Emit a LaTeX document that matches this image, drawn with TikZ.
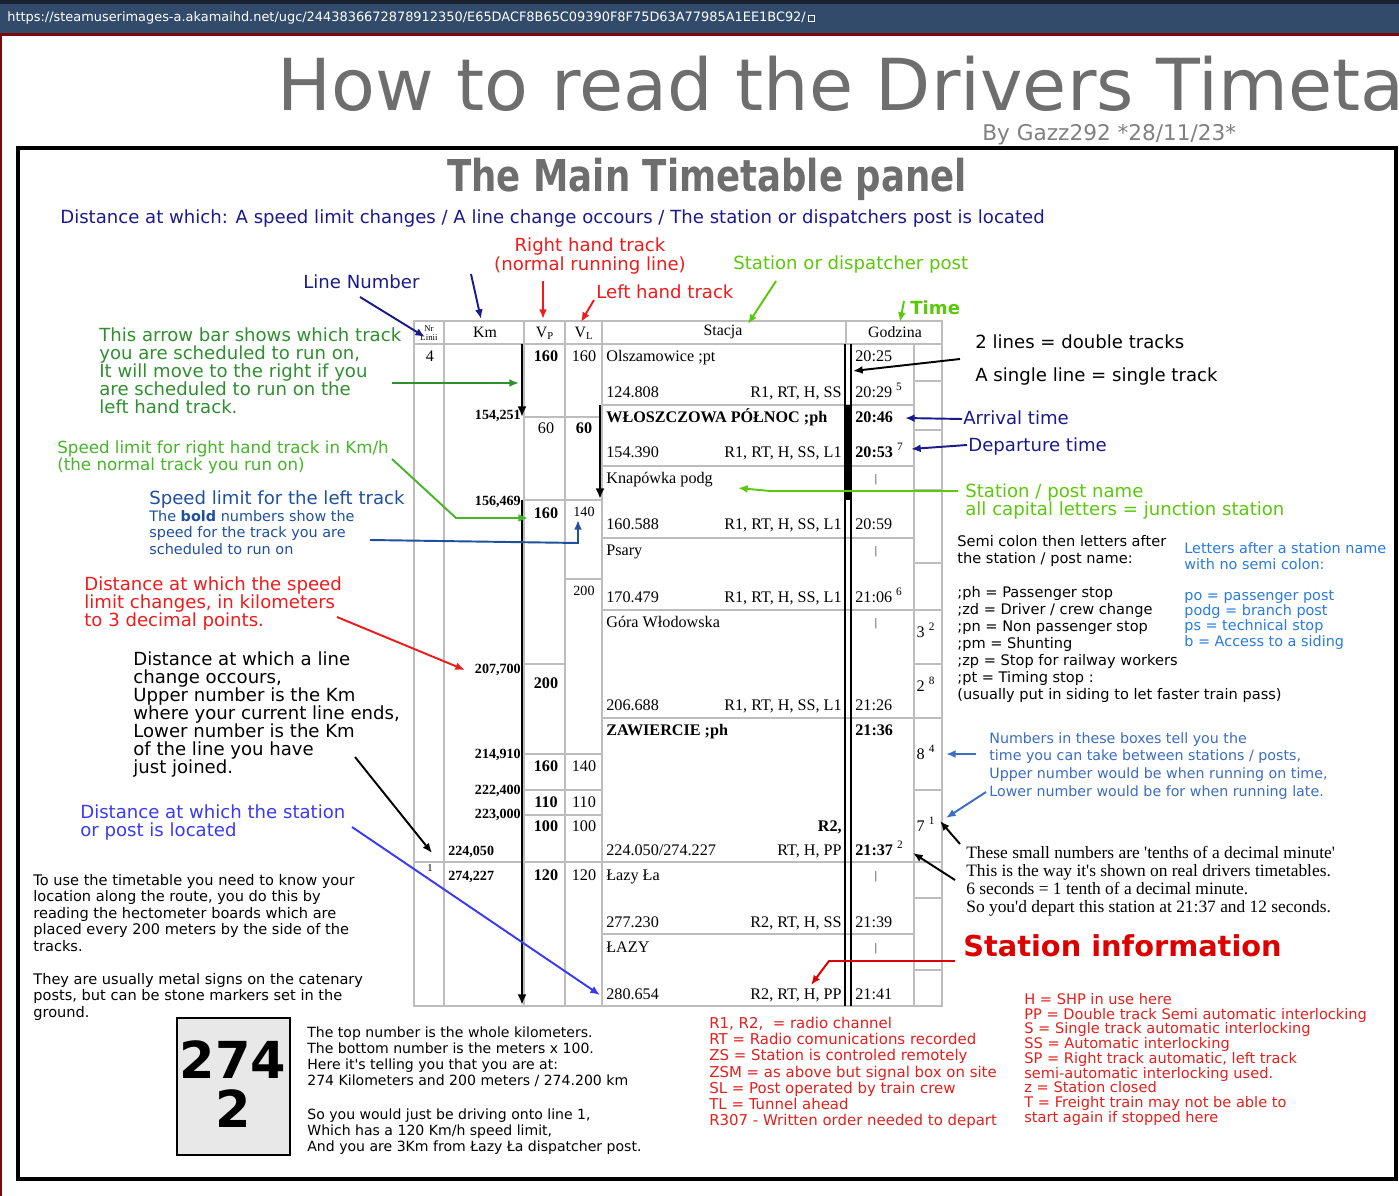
\documentclass[tikz,border=0pt]{standalone}
\usepackage{fontspec}
\setmainfont{Liberation Serif}
\setsansfont{DejaVu Sans}
\usepackage{graphicx}
\usetikzlibrary{arrows.meta}

\definecolor{topc}{HTML}{1B2330}
\definecolor{barc}{HTML}{324B6B}
\definecolor{edgec}{HTML}{7A0A0A}
\definecolor{titlec}{HTML}{6E6E6E}
\definecolor{navyc}{HTML}{1A1A8C}
\definecolor{redc}{HTML}{EE1C1C}
\definecolor{limec}{HTML}{5CC80A}
\definecolor{dgreenc}{HTML}{2F8F2F}
\definecolor{mgreenc}{HTML}{47B52A}
\definecolor{lbluec}{HTML}{1F4F9F}
\definecolor{vbluec}{HTML}{3A3AF5}
\definecolor{skyc}{HTML}{2A7AE2}
\definecolor{steelc}{HTML}{3B6DC2}
\definecolor{infoc}{HTML}{DD0000}
\definecolor{listc}{HTML}{E2201E}
\definecolor{gridc}{HTML}{BDBDBD}
\definecolor{boardc}{HTML}{E8E8E8}

\newcommand{\sq}{\textquotesingle}

\tikzset{
  ann/.style={font=\sffamily\fontsize{10.3}{10.2}\selectfont, align=left, anchor=base west},
  small/.style={font=\sffamily\fontsize{8.2}{9.4}\selectfont, align=left, anchor=base west},
  cell/.style={font=\fontsize{9.2}{10}\selectfont, anchor=base west},
  cellb/.style={font=\fontsize{9.2}{10}\selectfont\bfseries, anchor=base west},
  spd/.style={font=\fontsize{9.2}{10}\selectfont, anchor=base},
  spdb/.style={font=\fontsize{9.2}{10}\selectfont\bfseries, anchor=base},
  kmv/.style={font=\fontsize{8}{9}\selectfont\bfseries, anchor=base east},
  infotxt/.style={font=\fontsize{9.2}{10}\selectfont, anchor=base east},
  tick/.style={font=\fontsize{6.5}{7}\selectfont, anchor=base},
  head/.style={font=\fontsize{9}{10}\selectfont, anchor=center},
  gridline/.style={draw=gridc, line width=0.6pt},
  arr/.style={line width=1.1pt, -{Latex[length=5.5pt,width=4.5pt]}},
  bar/.style={line width=1.6pt, -{Latex[length=6pt,width=5pt]}}
}

\begin{document}
\begin{tikzpicture}[x=0.02cm, y=-0.02cm, every node/.style={inner sep=0pt}]
\useasboundingbox (0,0) rectangle (1399,1196);
\fill[white] (0,0) rectangle (1399,1196);

% browser strip
\fill[topc] (0,0) rectangle (1399,4);
\fill[barc] (0,4) rectangle (1399,33);
\fill[edgec] (0,33) rectangle (1399,36);
\fill[edgec] (0,36) rectangle (2,1196);
\node[anchor=west, text=white, font=\sffamily\fontsize{7.35}{8}\selectfont] (url) at (7,18)
  {https://steamuserimages-a.akamaihd.net/ugc/2443836672878912350/E65DACF8B65C09390F8F75D63A77985A1EE1BC92/};
\draw[white, line width=0.4pt] (808,15) rectangle (814,21);

% titles
\node[anchor=base west, text=titlec, font=\sffamily\fontsize{40.8}{41}\selectfont] (title) at (277,111) {How to read the Drivers Timeta};
\node[anchor=base west, text=gray, font=\sffamily\fontsize{12.3}{13}\selectfont] (byline) at (982,141) {By Gazz292 *28/11/23*};
\draw[line width=2pt] (18,148) rectangle (1396,1179);
\node[anchor=base west, text=titlec, font=\sffamily\bfseries\fontsize{25}{25}\selectfont] (panel) at (447,192) {\scalebox{0.81}[1]{The Main Timetable panel}};

% the timetable
\draw[gridline] (414,321) rectangle (942,1006);
\draw[gridline] (414,344) -- (942,344);
\draw[gridline] (444,321) -- (444,1006) (524,321) -- (524,1006) (565,321) -- (565,1006)
  (602,321) -- (602,1006) (846,321) -- (846,344) (914,344) -- (914,1006);
\draw[gridline] (602,405) -- (914,405) (602,466) -- (914,466) (602,538) -- (914,538)
  (602,610) -- (914,610) (602,718) -- (914,718) (414,862) -- (942,862) (602,934) -- (914,934);
\draw[gridline] (524,417) -- (602,417) (524,500) -- (602,500) (565,579) -- (602,579)
  (524,664) -- (565,664) (524,754) -- (602,754) (524,790) -- (602,790) (524,815) -- (602,815);
\draw[gridline] (914,381) -- (942,381) (914,430) -- (942,430) (914,490) -- (942,490)
  (914,563) -- (942,563) (914,610) -- (942,610) (914,664) -- (942,664) (914,718) -- (942,718)
  (914,790) -- (942,790) (914,898) -- (942,898) (914,970) -- (942,970);
\draw[line width=0.9pt] (845,344) -- (845,1006) (851,344) -- (851,1006);
\fill (845,405) rectangle (851,500);

\coordinate (bar1a) at (522,344);
\coordinate (bar1b) at (522,417);
\coordinate (bar2a) at (600,405);
\coordinate (bar2b) at (600,499);
\coordinate (bar3a) at (522,500);
\coordinate (bar3b) at (522,1005);
\draw[bar] (bar1a) -- (bar1b);
\draw[bar] (bar2a) -- (bar2b);
\draw[bar] (bar3a) -- (bar3b);

\node[head, font=\fontsize{5}{5.5}\selectfont, align=center] (hdnr) at (429,333) {Nr\\Linii};
\node[head] (hdkm) at (485,332) {Km};
\node[head] (hdvp) at (545,333) {V\textsubscript{P}};
\node[head] (hdvl) at (584,333) {V\textsubscript{L}};
\node[head] (hdst) at (723,332) {Stacja};
\node[head] (hdgo) at (895,332) {Godzina};

\node[spd] (nr4) at (430,361) {4};
\node[spdb] (vp1) at (546,361) {160};
\node[spd] (vl1) at (584,361) {160};
\node[cell] (st1) at (606,361) {Olszamowice ;pt};
\node[cell] (t1a) at (855,361) {20:25};
\node[cell] (ks1) at (606,397) {124.808};
\node[infotxt] (if1) at (842,397) {R1, RT, H, SS};
\node[cell] (t1b) at (855,397) {20:29 \textsuperscript{5}};

\node[kmv] (km1) at (521,419) {154,251};
\node[spd] (vp2) at (546,433) {60};
\node[spdb] (vl2) at (584,433) {60};
\node[cellb] (st2) at (606,422) {WŁOSZCZOWA PÓŁNOC ;ph};
\node[cellb] (t2a) at (855,422) {20:46};
\node[cell] (ks2) at (606,457) {154.390};
\node[infotxt] (if2) at (842,457) {R1, RT, H, SS, L1};
\node[cell] (t2b) at (855,457) {\textbf{20:53} \textsuperscript{7}};

\node[cell] (st3) at (606,483) {Knapówka podg};
\node[tick] (t3a) at (876,482) {|};
\node[kmv] (km2) at (521,505) {156,469};
\node[spdb] (vp3) at (546,518) {160};
\node[spd, font=\fontsize{8}{9}\selectfont] (vl3) at (584,516) {140};
\node[cell] (ks3) at (606,529) {160.588};
\node[infotxt] (if3) at (842,529) {R1, RT, H, SS, L1};
\node[cell] (t3b) at (855,529) {20:59};

\node[cell] (st4) at (606,555) {Psary};
\node[tick] (t4a) at (876,554) {|};
\node[spd, font=\fontsize{8}{9}\selectfont] (vl4) at (584,595) {200};
\node[cell] (ks4) at (606,602) {170.479};
\node[infotxt] (if4) at (842,602) {R1, RT, H, SS, L1};
\node[cell] (t4b) at (855,602) {21:06 \textsuperscript{6}};

\node[cell] (st5) at (606,627) {Góra Włodowska};
\node[tick] (t5a) at (876,626) {|};
\node[spd] (sm1) at (926,637) {3 \textsuperscript{2}};
\node[kmv] (km3) at (521,673) {207,700};
\node[spdb] (vp5) at (546,688) {200};
\node[spd] (sm2) at (926,691) {2 \textsuperscript{8}};
\node[cell] (ks5) at (606,710) {206.688};
\node[infotxt] (if5) at (842,710) {R1, RT, H, SS, L1};
\node[cell] (t5b) at (855,710) {21:26};

\node[cellb] (st6) at (606,735) {ZAWIERCIE ;ph};
\node[cellb] (t6a) at (855,735) {21:36};
\node[kmv] (km4) at (521,758) {214,910};
\node[spd] (sm3) at (926,759) {8 \textsuperscript{4}};
\node[spdb] (vp6) at (546,771) {160};
\node[spd] (vl6) at (584,771) {140};
\node[kmv] (km5) at (521,794) {222,400};
\node[spdb] (vp7) at (546,807) {110};
\node[spd] (vl7) at (584,807) {110};
\node[kmv] (km6) at (521,818) {223,000};
\node[spdb] (vp8) at (546,831) {100};
\node[spd] (vl8) at (584,831) {100};
\node[spd] (sm4) at (926,831) {7 \textsuperscript{1}};
\node[infotxt, font=\fontsize{9.2}{10}\selectfont\bfseries] (if6a) at (842,831) {R2,};
\node[kmv, anchor=base west] (km7) at (448,855) {224,050};
\node[cell] (ks6) at (606,855) {224.050/274.227};
\node[infotxt] (if6b) at (842,855) {RT, H, PP};
\node[cell] (t6b) at (855,855) {\textbf{21:37} \textsuperscript{2}};

\node[spd, font=\fontsize{6}{7}\selectfont] (nr1) at (430,871) {1};
\node[kmv, anchor=base west] (km8) at (448,880) {274,227};
\node[spdb] (vp9) at (546,880) {120};
\node[spd] (vl9) at (584,880) {120};
\node[cell] (st7) at (606,880) {Łazy Ła};
\node[tick] (t7a) at (876,879) {|};
\node[cell] (ks7) at (606,927) {277.230};
\node[infotxt] (if7) at (842,927) {R2, RT, H, SS};
\node[cell] (t7b) at (855,927) {21:39};

\node[cell] (st8) at (606,952) {ŁAZY};
\node[tick] (t8a) at (876,951) {|};
\node[cell] (ks8) at (606,999) {280.654};
\node[infotxt] (if8) at (842,999) {R2, RT, H, PP};
\node[cell] (t8b) at (855,999) {21:41};

% notes above the table (multi-line nodes sit on their last baseline)
\node[ann, navyc] (distall) at (60,224)
  {Distance at which: A speed limit changes / A line change occours / The station or dispatchers post is located};
\node[ann, redc, align=center, anchor=base, font=\sffamily\fontsize{10.3}{9.64}\selectfont] (rhtrack) at (590,271)
  {Right hand track\\(normal running line)};
\node[ann, redc] (lhtrack) at (596,298) {Left hand track};
\node[ann, limec] (sdpost) at (733,269) {Station or dispatcher post};
\node[ann, limec, font=\sffamily\bfseries\fontsize{10.3}{10.2}\selectfont] (timelbl) at (910,314) {Time};
\node[ann, navyc] (linenum) at (303,288) {Line Number};

% notes left of the table
\node[ann, dgreenc] (barnote) at (99,413.5) {This arrow bar shows which track\\you are scheduled to run on,\\It will move to the right if you\\are scheduled to run on the\\left hand track.};
\node[ann, mgreenc, font=\sffamily\fontsize{9.5}{9.64}\selectfont] (rspd) at (57,470) {Speed limit for right hand track in Km/h\\(the normal track you run on)};
\node[ann, lbluec] (lspd) at (149,504) {Speed limit for the left track};
\node[small, lbluec, font=\sffamily\fontsize{8.2}{9.35}\selectfont] (lspdsub) at (149,554) {The \textbf{bold} numbers show the\\speed for the track you are\\scheduled to run on};
\node[ann, redc] (spdchg) at (84,626.5) {Distance at which the speed\\limit changes, in kilometers\\to 3 decimal points.};
\node[ann] (linechg) at (133,773.5) {Distance at which a line\\change occours,\\Upper number is the Km\\where your current line ends,\\Lower number is the Km\\of the line you have\\just joined.};
\node[ann, vbluec] (stdist) at (80,836.5) {Distance at which the station\\or post is located};
\node[small, font=\sffamily\fontsize{8.3}{9.4}\selectfont] (usea) at (33,951.4) {To use the timetable you need to know your\\location along the route, you do this by\\reading the hectometer boards which are\\placed every 200 meters by the side of the\\tracks.};
\node[small, font=\sffamily\fontsize{8.3}{9.4}\selectfont] (useb) at (33,1017.2) {They are usually metal signs on the catenary\\posts, but can be stone markers set in the\\ground.};

% hectometer board
\draw[fill=boardc, line width=1.6pt] (177,1018) rectangle (290,1155);
\node[anchor=base, font=\sffamily\bfseries\fontsize{29}{29}\selectfont] (hmkm) at (233,1078) {274};
\node[anchor=base, font=\sffamily\bfseries\fontsize{29}{29}\selectfont] (hmm) at (233,1127) {2};
\node[small, font=\sffamily\fontsize{8}{9.07}\selectfont] (hma) at (307,1085) {The top number is the whole kilometers.\\The bottom number is the meters x 100.\\Here it\sq s telling you that you are at:\\274 Kilometers and 200 meters / 274.200 km};
\node[small, font=\sffamily\fontsize{8}{9.07}\selectfont] (hmb) at (307,1151) {So you would just be driving onto line 1,\\Which has a 120 Km/h speed limit,\\And you are 3Km from Łazy Ła dispatcher post.};

% notes right of the table
\node[ann] (twolines) at (975,348) {2 lines = double tracks};
\node[ann] (oneline) at (975,381) {A single line = single track};
\node[ann, navyc] (arrival) at (963,424) {Arrival time};
\node[ann, navyc] (depart) at (968,451) {Departure time};
\node[ann, limec] (stname) at (965,515.5) {Station / post name\\all capital letters = junction station};
\node[small, font=\sffamily\fontsize{8.3}{9.64}\selectfont] (semi) at (957,563.5) {Semi colon then letters after\\the station / post name:};
\node[small, font=\sffamily\fontsize{8.3}{9.64}\selectfont] (semilist) at (957,699) {;ph = Passenger stop\\;zd = Driver / crew change\\;pn = Non passenger stop\\;pm = Shunting\\;zp = Stop for railway workers\\;pt = Timing stop :\\(usually put in siding to let faster train pass)};
\node[small, skyc, font=\sffamily\fontsize{8.2}{9.07}\selectfont] (nosemi) at (1184,569) {Letters after a station name\\with no semi colon:};
\node[small, skyc, font=\sffamily\fontsize{8.2}{8.67}\selectfont] (nosemilist) at (1184,646) {po = passenger post\\podg = branch post\\ps = technical stop\\b = Access to a siding};
\node[small, steelc, font=\sffamily\fontsize{8.1}{10.03}\selectfont] (boxes) at (989,796) {Numbers in these boxes tell you the\\time you can take between stations / posts,\\Upper number would be when running on time,\\Lower number would be for when running late.};
\node[anchor=base west, align=left, font=\fontsize{9.9}{10.2}\selectfont] (tenths) at (966,912.5) {These small numbers are \sq tenths of a decimal minute\sq\\This is the way it\sq s shown on real drivers timetables.\\6 seconds = 1 tenth of a decimal minute.\\So you\sq d depart this station at 21:37 and 12 seconds.};
\node[anchor=base west, infoc, font=\sffamily\bfseries\fontsize{16.4}{17}\selectfont] (stinfo) at (963,956) {Station information};
\node[small, listc, font=\sffamily\fontsize{8.3}{8.39}\selectfont] (codes) at (1024,1122.4) {H = SHP in use here\\PP = Double track Semi automatic interlocking\\S = Single track automatic interlocking\\SS = Automatic interlocking\\SP = Right track automatic, left track\\semi-automatic interlocking used.\\z = Station closed\\T = Freight train may not be able to\\start again if stopped here};
\node[small, listc, font=\sffamily\fontsize{8.5}{9.24}\selectfont] (radio) at (709,1125.8) {R1, R2,~ = radio channel\\RT = Radio comunications recorded\\ZS = Station is controled remotely\\ZSM = as above but signal box on site\\SL = Post operated by train crew\\TL = Tunnel ahead\\R307 - Written order needed to depart};

% arrows
\coordinate (distfoot) at (471,274);
\coordinate (kmhead) at (481,319);
\coordinate (rhtfoot) at (543,281);
\coordinate (vphead) at (543,319);
\coordinate (lhtfoot) at (594,300);
\coordinate (vlhead) at (581,322);
\coordinate (sdpfoot) at (776,281);
\coordinate (sthead) at (748,324);
\coordinate (timefoot) at (904,301);
\coordinate (gohead) at (900,322);
\coordinate (linefoot) at (360,297);
\coordinate (nrhead) at (425,337);
\coordinate (barfoot) at (392,383);
\coordinate (barpt) at (519,383);
\coordinate (rspdfoot) at (392,459);
\coordinate (rspdbend) at (456,518);
\coordinate (rspdpt) at (528,518);
\coordinate (lspdfoot) at (370,540);
\coordinate (lspdbend) at (578,543);
\coordinate (lspdpt) at (578,520);
\coordinate (spdfoot) at (337,617);
\coordinate (kmchg) at (465,670);
\coordinate (linefoot2) at (355,757);
\coordinate (kmline) at (432,853);
\coordinate (stdfoot) at (352,827);
\coordinate (kmst) at (600,995);
\coordinate (trackfoot) at (960,359);
\coordinate (trackpt) at (853,371);
\coordinate (arrfoot) at (962,419);
\coordinate (arrpt) at (905,418);
\coordinate (depfoot) at (967,445);
\coordinate (deppt) at (911,449);
\coordinate (namefoot) at (958,491);
\coordinate (namebend) at (770,491);
\coordinate (namept) at (738,488);
\coordinate (boxfoot) at (976,754);
\coordinate (boxpt) at (946,754);
\coordinate (boxfoot2) at (986,792);
\coordinate (boxpt2) at (946,818);
\coordinate (tenthfoot) at (960,844);
\coordinate (tenthpt) at (940,821);
\coordinate (tenthfoot2) at (955,880);
\coordinate (tenthpt2) at (913,853);
\coordinate (infofoot) at (955,961);
\coordinate (infobend) at (829,961);
\coordinate (infopt) at (811,985);

\draw[arr, navyc] (distfoot) -- (kmhead);
\draw[arr, redc] (rhtfoot) -- (vphead);
\draw[arr, redc] (lhtfoot) -- (vlhead);
\draw[arr, limec] (sdpfoot) -- (sthead);
\draw[arr, limec] (timefoot) -- (gohead);
\draw[arr, navyc] (linefoot) -- (nrhead);
\draw[arr, dgreenc] (barfoot) -- (barpt);
\draw[arr, mgreenc] (rspdfoot) -- (rspdbend) -- (rspdpt);
\draw[arr, lbluec] (lspdfoot) -- (lspdbend) -- (lspdpt);
\draw[arr, redc] (spdfoot) -- (kmchg);
\draw[arr] (linefoot2) -- (kmline);
\draw[arr, vbluec] (stdfoot) -- (kmst);
\draw[arr] (trackfoot) -- (trackpt);
\draw[arr, navyc] (arrfoot) -- (arrpt);
\draw[arr, navyc] (depfoot) -- (deppt);
\draw[arr, limec] (namefoot) -- (namebend) -- (namept);
\draw[arr, steelc] (boxfoot) -- (boxpt);
\draw[arr, steelc] (boxfoot2) -- (boxpt2);
\draw[arr] (tenthfoot) -- (tenthpt);
\draw[arr] (tenthfoot2) -- (tenthpt2);
\draw[arr, infoc] (infofoot) -- (infobend) -- (infopt);
\end{tikzpicture}
\end{document}
